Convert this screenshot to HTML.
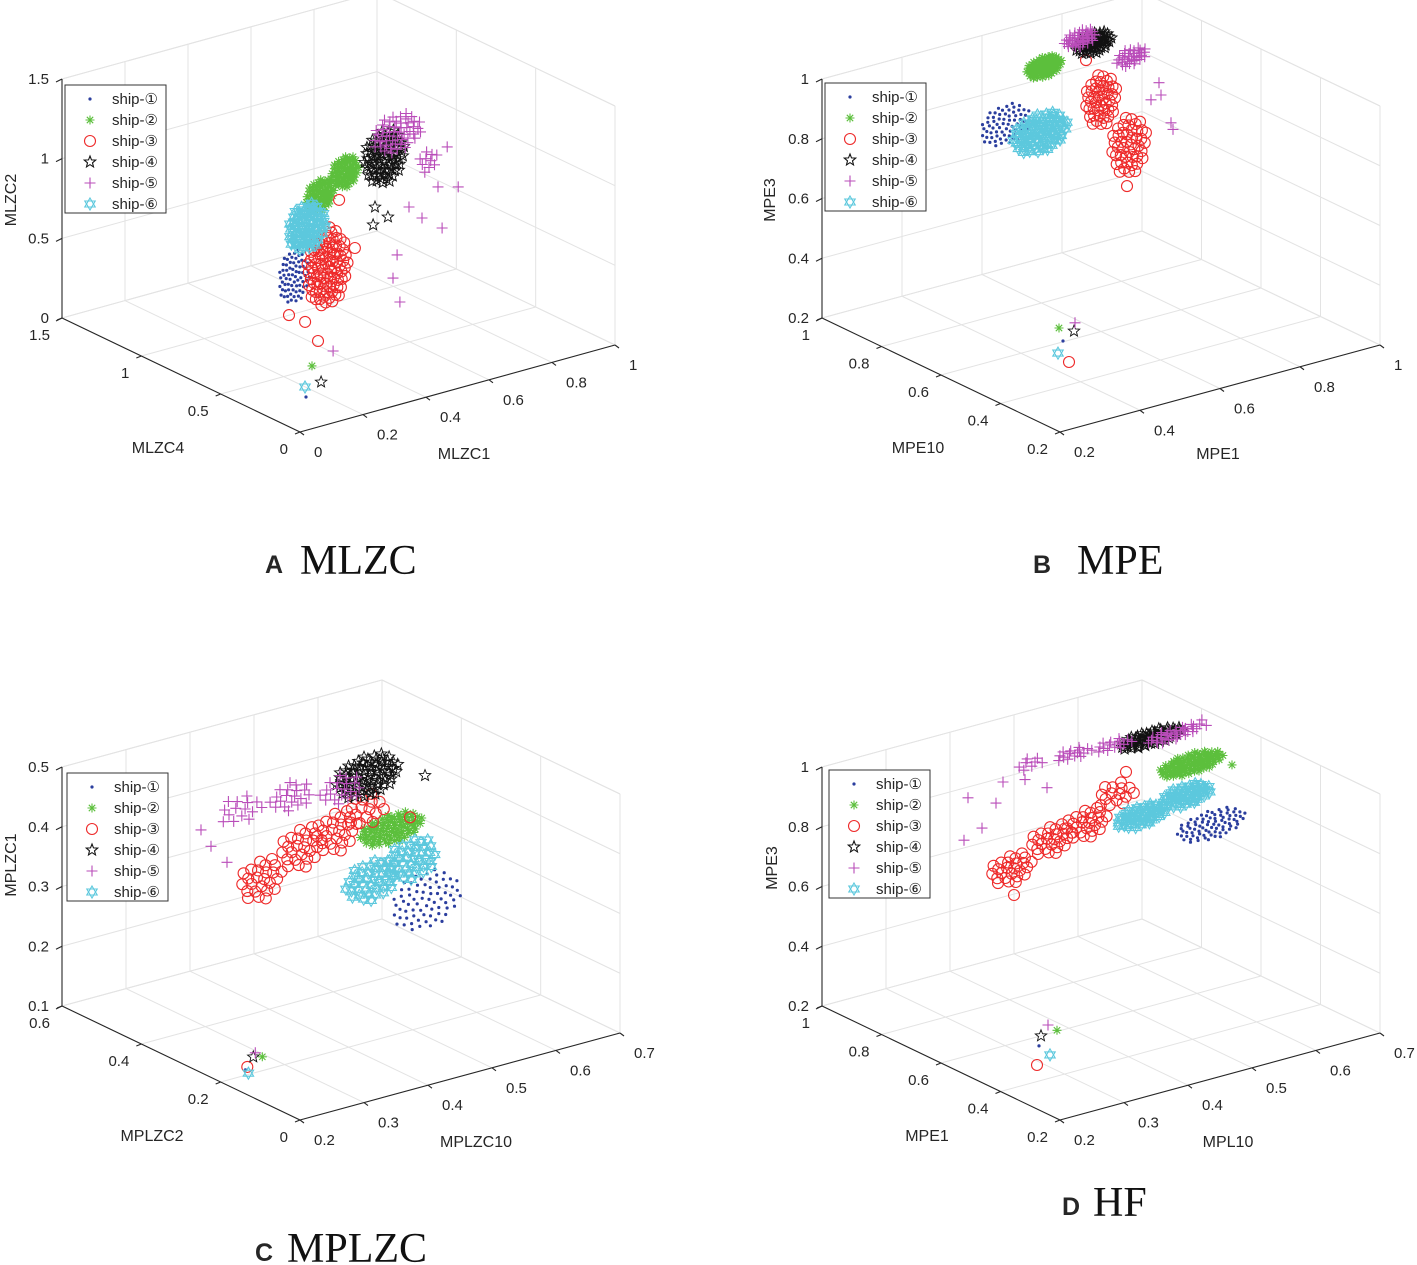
<!DOCTYPE html>
<html><head><meta charset="utf-8"><title>3D feature scatter plots</title>
<style>
html,body{margin:0;padding:0;background:#fff;}
svg{display:block;}
text{font-family:"Liberation Sans",Arial,sans-serif;fill:#262626;}
.cap{font-family:"Liberation Serif","Times New Roman",serif;fill:#111;}
</style></head>
<body>
<svg id="fig" width="1417" height="1265" viewBox="0 0 1417 1265" xmlns="http://www.w3.org/2000/svg"></svg>
<script>
// ===== Data: each entry = [xValue, yValue, zValue, spreadX, spreadZ, count] =====
// Panel A: MLZC  (x = MLZC1, y = MLZC4, z = MLZC2)
const mlzcShip1 = [[.233,.5,.607,.05,.17,70],[.019,0,.209,0,0,1]];
const mlzcShip2 = [[.316,.5,1.077,.045,.1,60],[.395,.5,1.178,.045,.1,60],[.038,0,.394,0,0,1]];
const mlzcShip3 = [[.338,.5,.613,.065,.25,90],[.217,.5,.377,0,0,1],[.268,.5,.306,0,0,1],[.426,.5,.684,0,0,1],[.376,.5,1.013,0,0,1],[.057,0,.54,0,0,1]];
const mlzcShip4 = [[.519,.5,1.205,.065,.17,80],[.531,.5,.821,0,0,1],[.484,.5,.797,0,0,1],[.49,.5,.906,0,0,1],[.067,0,.277,0,0,1]];
const mlzcShip5 = [[.56,.5,1.333,.08,.12,50],[.719,.5,1.158,0,0,1],[.754,.5,.888,0,0,1],[.598,.5,.847,0,0,1],[.639,.5,.756,0,0,1],[.56,.5,.567,0,0,1],[.547,.5,.429,0,0,1],[.569,.5,.267,0,0,1],[.703,.5,.658,0,0,1],[.69,.5,.923,0,0,1],[.66,.5,1.1,.03,.08,10],[.105,0,.451,0,0,1]];
const mlzcShip6 = [[.274,.5,.898,.06,.15,70],[.016,0,.274,0,0,1]];
// Panel B: MPE (x = MPE1, y = MPE10, z = MPE3)
const mpeShip1 = [[.3625,.6,.978,.065,.07,70],[.2075,.2,.502,0,0,1]];
const mpeShip2 = [[.4575,.6,1.137,.045,.035,80],[.1975,.2,.549,0,0,1]];
const mpeShip3 = [[.6,.6,.976,.04,.09,45],[.67,.6,.799,.045,.1,45],[.665,.6,.663,0,0,1],[.5625,.6,1.122,0,0,1],[.2225,.2,.426,0,0,1]];
const mpeShip4 = [[.5825,.6,1.172,.045,.035,60],[.235,.2,.525,0,0,1]];
const mpeShip5 = [[.5475,.6,1.2,.04,.03,40],[.675,.6,1.092,.04,.03,30],[.745,.6,.98,0,0,1],[.775,.6,.835,0,0,1],[.725,.6,.93,0,0,1],[.75,.6,.937,0,0,1],[.78,.6,.811,0,0,1],[.2375,.2,.552,0,0,1]];
const mpeShip6 = [[.4475,.6,.92,.07,.065,80],[.195,.2,.466,0,0,1]];
// Panel C: MPLZC (x = MPLZC10, y = MPLZC2, z = MPLZC1)
const mplzcShip1 = [[.5828,.3,.261,.055,.05,70],[.1766,.1,.159,0,0,1]];
const mplzcShip2 = [[.5281,.3,.396,.05,.025,80],[.2031,.1,.173,0,0,1]];
const mplzcShip3 = [[.325,.3,.37,.035,.035,25],[.3875,.3,.405,.035,.035,25],[.4422,.3,.416,.035,.035,25],[.4891,.3,.439,.03,.03,15],[.5578,.3,.407,0,0,1],[.1797,.1,.163,0,0,1]];
const mplzcShip4 = [[.4906,.3,.495,.05,.035,80],[.5813,.3,.47,0,0,1],[.189,.1,.177,0,0,1]];
const mplzcShip5 = [[.2938,.3,.496,.035,.025,15],[.3719,.3,.495,.035,.025,20],[.45,.3,.484,.035,.025,20],[.2313,.3,.481,0,0,1],[.2469,.3,.449,0,0,1],[.2719,.3,.415,0,0,1],[.1922,.1,.183,0,0,1]];
const mplzcShip6 = [[.4969,.3,.319,.04,.035,40],[.5594,.3,.336,.04,.035,40],[.1813,.1,.152,0,0,1]];
// Panel D: HF (x = MPL10, y = MPE1, z = MPE3)
const hfShip1 = [[.6219,.6,.751,.055,.05,80],[.1672,.2,.467,0,0,1]];
const hfShip2 = [[.5906,.6,.974,.05,.035,90],[.6547,.6,.933,0,0,1],[.1953,.2,.503,0,0,1]];
const hfShip3 = [[.3094,.6,.785,.035,.05,25],[.3719,.6,.846,.035,.05,25],[.4266,.6,.869,.035,.05,25],[.4734,.6,.938,.03,.045,15],[.3141,.6,.696,0,0,1],[.4891,.6,1.006,0,0,1],[.1641,.2,.405,0,0,1]];
const hfShip4 = [[.5281,.6,1.097,.05,.025,70],[.1703,.2,.499,0,0,1]];
const hfShip5 = [[.4078,.6,1.114,.03,.02,15],[.3406,.6,1.122,.025,.02,8],[.4703,.6,1.107,.03,.02,15],[.5594,.6,1.088,.04,.02,30],[.5984,.6,1.099,.02,.02,6],[.2969,.6,1.084,0,0,1],[.3313,.6,1.072,0,0,1],[.3656,.6,1.025,0,0,1],[.2422,.6,1.063,0,0,1],[.2859,.6,1.02,0,0,1],[.2641,.6,.949,0,0,1],[.2359,.6,.925,0,0,1],[.1813,.2,.529,0,0,1]];
const hfShip6 = [[.5125,.6,.845,.04,.035,50],[.5828,.6,.873,.04,.035,50],[.1844,.2,.427,0,0,1]];

// tick labels
const mlzcXTicks = [0,.2,.4,.6,.8,1], mlzcYTicks = [0,.5,1,1.5], mlzcZTicks = [0,.5,1,1.5];
const mpeXTicks = [.2,.4,.6,.8,1], mpeYTicks = [.2,.4,.6,.8,1], mpeZTicks = [.2,.4,.6,.8,1];
const mplzcXTicks = [.2,.3,.4,.5,.6,.7], mplzcYTicks = [0,.2,.4,.6], mplzcZTicks = [.1,.2,.3,.4,.5];
const hfXTicks = [.2,.3,.4,.5,.6,.7], hfYTicks = [.2,.4,.6,.8,1], hfZTicks = [.2,.4,.6,.8,1];
const shipNames = ['ship-①','ship-②','ship-③','ship-④','ship-⑤','ship-⑥'];

const NS = 'http://www.w3.org/2000/svg';
const svg = document.getElementById('fig');
function mk(tag, attrs, parent){ const e=document.createElementNS(NS,tag); for(const k in attrs) e.setAttribute(k,attrs[k]); (parent||svg).appendChild(e); return e; }

const panels = [
 {key:'mlzc', O:[300,432], xE:[615,345], yE:[62,318], zH:239, xr:[0,1], yr:[0,1.5], zr:[0,1.5],
  xt:mlzcXTicks, yt:mlzcYTicks, zt:mlzcZTicks, ships:[mlzcShip1,mlzcShip2,mlzcShip3,mlzcShip4,mlzcShip5,mlzcShip6],
  xl:['MLZC1',464,459], yl:['MLZC4',158,453], zl:['MLZC2',16,200], leg:[65,85], cap:['A','MLZC',265,300,574]},
 {key:'mpe', O:[1060,432], xE:[1380,345], yE:[822,318], zH:239, xr:[.2,1], yr:[.2,1], zr:[.2,1],
  xt:mpeXTicks, yt:mpeYTicks, zt:mpeZTicks, ships:[mpeShip1,mpeShip2,mpeShip3,mpeShip4,mpeShip5,mpeShip6],
  xl:['MPE1',1218,459], yl:['MPE10',918,453], zl:['MPE3',775,200], leg:[825,83], cap:['B','MPE',1033,1077,574]},
 {key:'mplzc', O:[300,1120], xE:[620,1033], yE:[62,1006], zH:239, xr:[.2,.7], yr:[0,.6], zr:[.1,.5],
  xt:mplzcXTicks, yt:mplzcYTicks, zt:mplzcZTicks, ships:[mplzcShip1,mplzcShip2,mplzcShip3,mplzcShip4,mplzcShip5,mplzcShip6],
  xl:['MPLZC10',476,1147], yl:['MPLZC2',152,1141], zl:['MPLZC1',16,865], leg:[67,773], cap:['C','MPLZC',255,287,1262]},
 {key:'hf', O:[1060,1120], xE:[1380,1033], yE:[822,1006], zH:239, xr:[.2,.7], yr:[.2,1], zr:[.2,1],
  xt:hfXTicks, yt:hfYTicks, zt:hfZTicks, ships:[hfShip1,hfShip2,hfShip3,hfShip4,hfShip5,hfShip6],
  xl:['MPL10',1228,1147], yl:['MPE1',927,1141], zl:['MPE3',777,868], leg:[829,770], cap:['D','HF',1062,1093,1216]}
];

const colors = ['#2b3e9e','#5cbf3c','#ee2a2a','#111111','#b94cb9','#5cc8dd'];

function markerPath(t,x,y){
  const f=n=>n.toFixed(1);
  if(t===0) return `M${f(x-1.6)},${f(y)}a1.6,1.6 0 1,0 3.2,0a1.6,1.6 0 1,0 -3.2,0`;
  if(t===1){ const s=4.5,d=3.2; return `M${f(x-s)},${f(y)}H${f(x+s)}M${f(x)},${f(y-s)}V${f(y+s)}M${f(x-d)},${f(y-d)}L${f(x+d)},${f(y+d)}M${f(x-d)},${f(y+d)}L${f(x+d)},${f(y-d)}`; }
  if(t===2) return `M${f(x-5.5)},${f(y)}a5.5,5.5 0 1,0 11,0a5.5,5.5 0 1,0 -11,0`;
  if(t===3){ let p=''; for(let i=0;i<10;i++){ const r=i%2?2.6:6, a=-Math.PI/2+i*Math.PI/5; p+=(i?'L':'M')+f(x+r*Math.cos(a))+','+f(y+r*Math.sin(a)); } return p+'Z'; }
  if(t===4){ const s=5.5; return `M${f(x-s)},${f(y)}H${f(x+s)}M${f(x)},${f(y-s)}V${f(y+s)}`; }
  let p=''; for(let k=0;k<2;k++){ for(let i=0;i<3;i++){ const a=(k?Math.PI/2:-Math.PI/2)+i*2*Math.PI/3; p+=(i?'L':'M')+f(x+6*Math.cos(a))+','+f(y+6*Math.sin(a)); } p+='Z'; } return p;
}

panels.forEach(P=>{
  const g = mk('g',{});
  
  
  const dx=[P.xE[0]-P.O[0],P.xE[1]-P.O[1]], dy=[P.yE[0]-P.O[0],P.yE[1]-P.O[1]];
  const proj=(a,b,c)=>{ const u=(a-P.xr[0])/(P.xr[1]-P.xr[0]), v=(b-P.yr[0])/(P.yr[1]-P.yr[0]), w=(c-P.zr[0])/(P.zr[1]-P.zr[0]);
    return [P.O[0]+u*dx[0]+v*dy[0], P.O[1]+u*dx[1]+v*dy[1]-w*P.zH]; };
  const [x0,x1]=P.xr,[y0,y1]=P.yr,[z0,z1]=P.zr;
  const grid = mk('g',{stroke:'#e3e3e3','stroke-width':1,fill:'none'},g);
  
  
  const ln=(p,q,par,st)=>mk('line',Object.assign({x1:p[0],y1:p[1],x2:q[0],y2:q[1]},st||{}),par);
  P.xt.forEach(t=>{ ln(proj(t,y0,z0),proj(t,y1,z0),grid); ln(proj(t,y1,z0),proj(t,y1,z1),grid); });
  P.yt.forEach(t=>{ ln(proj(x0,t,z0),proj(x1,t,z0),grid); ln(proj(x1,t,z0),proj(x1,t,z1),grid); });
  P.zt.forEach(t=>{ ln(proj(x0,y1,t),proj(x1,y1,t),grid); ln(proj(x1,y1,t),proj(x1,y0,t),grid); });
  ln(proj(x0,y1,z1),proj(x1,y1,z1),grid); ln(proj(x1,y1,z1),proj(x1,y0,z1),grid);
  ln(proj(x1,y1,z0),proj(x1,y1,z1),grid);
  const ax = mk('g',{stroke:'#262626','stroke-width':1.1},g);
  
  
  ln(proj(x0,y0,z0),proj(x1,y0,z0),ax); ln(proj(x0,y0,z0),proj(x0,y1,z0),ax); ln(proj(x0,y1,z0),proj(x0,y1,z1),ax);
  P.xt.forEach(t=>{ const p=proj(t,y0,z0); ln(p,[p[0]+4,p[1]+3],ax);
    const tx=mk('text',{x:p[0]+14,y:p[1]+25,'font-size':15},g); tx.textContent=t;
    
     });
  P.yt.forEach(t=>{ const p=proj(x0,t,z0); ln(p,[p[0]-5,p[1]+2],ax);
    const tx=mk('text',{x:p[0]-12,y:p[1]+22,'font-size':15,'text-anchor':'end'},g); tx.textContent=t;
    
     });
  P.zt.forEach(t=>{ const p=proj(x0,y1,t); ln(p,[p[0]-6,p[1]+3],ax);
    const tx=mk('text',{x:p[0]-13,y:p[1]+5,'font-size':15,'text-anchor':'end'},g); tx.textContent=t;
    
     });
  const xt=mk('text',{x:P.xl[1],y:P.xl[2],'font-size':16,'text-anchor':'middle'},g); xt.textContent=P.xl[0];
  
  
  const yt=mk('text',{x:P.yl[1],y:P.yl[2],'font-size':16,'text-anchor':'middle'},g); yt.textContent=P.yl[0];
  
  
  const zt=mk('text',{x:P.zl[1],y:P.zl[2],'font-size':16,'text-anchor':'middle',transform:`rotate(-90 ${P.zl[1]} ${P.zl[2]})`},g); zt.textContent=P.zl[0];
  
  
  P.ships.forEach((arr,si)=>{
    let d='';
    arr.forEach(c=>{ const n=c[5];
      for(let i=0;i<n;i++){ const r=n>1?Math.sqrt((i+.5)/n):0, th=i*2.39996;
        const p=proj(c[0]+r*Math.cos(th)*c[3], c[1], c[2]+r*Math.sin(th)*c[4]); d+=markerPath(si,p[0],p[1]); } });
    const st = si===0?{fill:colors[0],stroke:'none'}:{fill:'none',stroke:colors[si],'stroke-width':si===3?0.9:1.1};
    const path=mk('path',Object.assign({d:d},st),g);
    
    
  });
  const L=P.leg, lg=mk('g',{},g);
  
  
  mk('rect',{x:L[0],y:L[1],width:101,height:128,fill:'#fff',stroke:'#333','stroke-width':1},lg);
  shipNames.forEach((nm,si)=>{ const cy=L[1]+14+si*21;
    const e=mk('g',{},lg);
    
    
    const st = si===0?{fill:colors[0],stroke:'none'}:{fill:'none',stroke:colors[si],'stroke-width':1.1};
    mk('path',Object.assign({d:markerPath(si,L[0]+25,cy)},st),e);
    const t=mk('text',{x:L[0]+47,y:cy+5,'font-size':15,fill:'#111'},e); t.textContent=nm; });
  const cp=mk('g',{},g);
  
  
  const c1=mk('text',{x:P.cap[2],y:P.cap[4]-1,'font-size':25,'font-weight':'bold',fill:'#000'},cp); c1.textContent=P.cap[0];
  const c2=mk('text',{x:P.cap[3],y:P.cap[4],'font-size':42,class:'cap'},cp); c2.textContent=P.cap[1];
});
</script>
</body></html>
